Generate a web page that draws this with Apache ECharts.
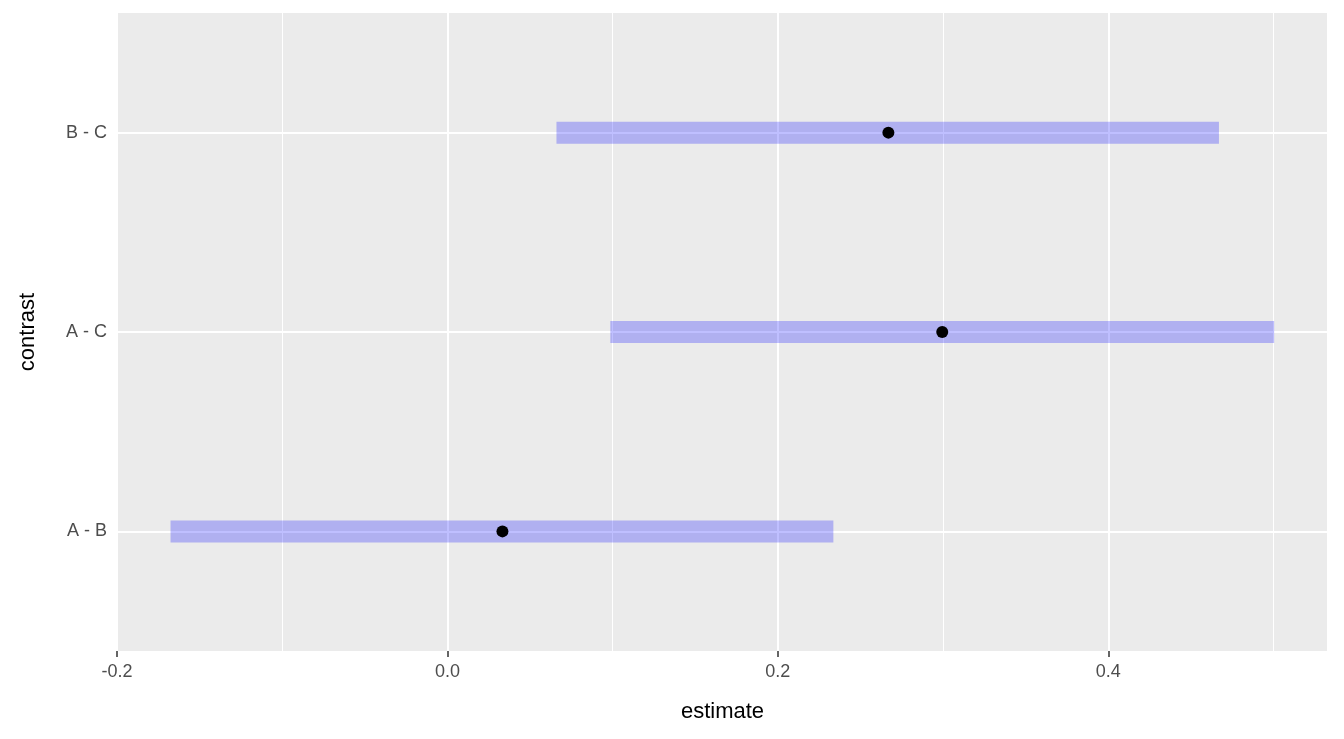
<!DOCTYPE html>
<html><head><meta charset="utf-8">
<script src="https://cdn.jsdelivr.net/npm/echarts@6/dist/echarts.min.js"></script>
<style>html,body{margin:0;padding:0;background:#fff}#c{width:1344px;height:739px}</style>
</head><body><div id="c"></div>
<script>
var contrasts = ['A - B', 'A - C', 'B - C'];
var estimates = [0.0333, 0.2995, 0.2669];
var lowers = [-0.1676, 0.0986, 0.066];
var uppers = [0.2336, 0.5004, 0.467];

var chart = echarts.init(document.getElementById('c'));
var series = [];
contrasts.forEach(function (name, i) {
	series.push({
		type: 'line', symbol: 'none', silent: true, z: 3,
		lineStyle: {width: 22, color: 'rgba(0,0,255,0.25)', cap: 'butt'},
		data: [[lowers[i], i + 1], [uppers[i], i + 1]]
	});
});
series.push({
	type: 'scatter', symbolSize: 12, z: 5, itemStyle: {color: '#000', opacity: 1},
	data: estimates.map(function (v, i) { return [v, i + 1]; })
});
var txt = {color: '#4d4d4d', fontSize: 18, fontFamily: 'Liberation Sans'};
var hiddenLine = {show: true, lineStyle: {color: 'rgba(0,0,0,0)'}};
chart.setOption({
	animation: false,
	grid: {left: 117, right: 16, top: 13, bottom: 88, show: true, backgroundColor: '#ebebeb', borderWidth: 0},
	xAxis: {
		type: 'value', min: -0.2, max: 0.533, interval: 0.2,
		name: 'estimate', nameLocation: 'middle', nameGap: 50,
		nameTextStyle: {color: '#000', fontSize: 22, fontFamily: 'Liberation Sans'},
		axisLine: hiddenLine,
		axisTick: {show: true, length: 6, lineStyle: {color: '#333', width: 1.5}},
		axisLabel: Object.assign({margin: 12, showMaxLabel: false, formatter: function (v) { return v.toFixed(1); }}, txt),
		splitLine: {lineStyle: {color: '#fff', width: 2}},
		minorTick: {show: false, splitNumber: 2},
		minorSplitLine: {show: true, lineStyle: {color: '#fff', width: 1}}
	},
	yAxis: {
		type: 'value', min: 0.4, max: 3.6,
		name: 'contrast', nameLocation: 'middle', nameGap: 78,
		nameTextStyle: {color: '#000', fontSize: 22, fontFamily: 'Liberation Sans'},
		axisLine: hiddenLine,
		axisTick: {show: true, length: 6, lineStyle: {color: '#333', width: 1.5}, customValues: [1, 2, 3]},
		axisLabel: Object.assign({margin: 10, customValues: [1, 2, 3], formatter: function (v) { return contrasts[Math.round(v) - 1]; }}, txt),
		splitLine: {show: false}
	},
	series: series.concat([{
		type: 'line', data: [], silent: true, z: 1,
		markLine: {
			symbol: 'none', silent: true, label: {show: false}, z: 1,
			lineStyle: {color: '#fff', width: 2, type: 'solid'},
			data: [{yAxis: 1}, {yAxis: 2}, {yAxis: 3}]
		}
	}, {
		type: 'line', data: [], silent: true, z: 1,
		markLine: {
			symbol: 'none', silent: true, label: {show: false}, z: 1,
			lineStyle: {color: '#fff', width: 1, type: 'solid'},
			data: [{xAxis: 0.5}]
		}
	}])
});
</script></body></html>
